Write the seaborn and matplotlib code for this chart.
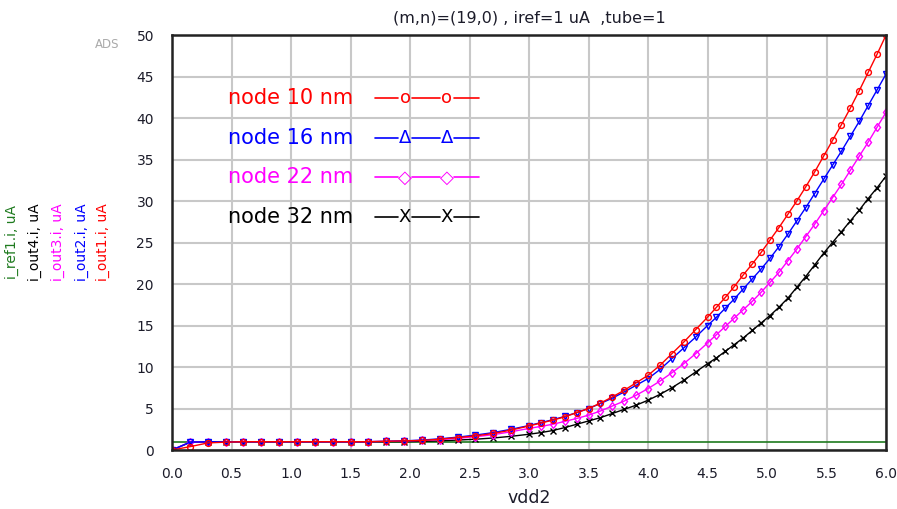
import matplotlib
matplotlib.use("Agg")
import matplotlib.pyplot as plt
import seaborn as sns
import pandas as pd
import numpy as np

# ---- data (sweep points of vdd2) ----
vdd2 = [0.0, 0.15, 0.3, 0.45, 0.6, 0.75, 0.9, 1.05, 1.2, 1.35, 1.5, 1.65, 1.8, 1.95,
        2.1, 2.25, 2.4, 2.55, 2.7, 2.85, 3.0,
        3.1, 3.2, 3.3, 3.4, 3.5, 3.6, 3.7, 3.8, 3.9, 4.0, 4.1, 4.2, 4.3, 4.4, 4.5,
        4.575, 4.65, 4.725, 4.8, 4.875, 4.95, 5.025, 5.1, 5.175, 5.25,
        5.325, 5.4, 5.475, 5.55, 5.625, 5.7, 5.775, 5.85, 5.925, 6.0]
# node 10 nm
i_out1 = [0.0, 0.4, 0.85, 0.95, 1.0, 1.0, 1.0, 1.0, 1.0, 1.0, 1.0, 1.0, 1.05, 1.1,
          1.15, 1.3, 1.5, 1.7, 2.0, 2.4, 2.9,
          3.25, 3.6, 4.0, 4.5, 5.0, 5.65, 6.4, 7.2, 8.1, 9.0, 10.2, 11.6, 13.0, 14.5, 16.0,
          17.2, 18.4, 19.7, 21.1, 22.4, 23.8, 25.3, 26.8, 28.4, 30.0,
          31.7, 33.5, 35.4, 37.3, 39.2, 41.2, 43.3, 45.5, 47.7, 50.0]
# node 16 nm
i_out2 = [0.0, 0.95, 1.0, 1.0, 1.0, 1.0, 1.0, 1.0, 1.0, 1.0, 1.0, 1.0, 1.05, 1.1,
          1.2, 1.35, 1.55, 1.8, 2.1, 2.5, 2.95,
          3.3, 3.65, 4.05, 4.5, 5.0, 5.6, 6.25, 7.0, 7.8, 8.6, 9.7, 11.0, 12.3, 13.6, 15.0,
          16.0, 17.1, 18.2, 19.4, 20.6, 21.8, 23.1, 24.5, 26.0, 27.6,
          29.2, 30.9, 32.6, 34.3, 36.0, 37.8, 39.6, 41.5, 43.4, 45.3]
# node 22 nm
i_out3 = [0.0, 0.95, 1.0, 1.0, 1.0, 1.0, 1.0, 1.0, 1.0, 1.0, 1.0, 1.0, 1.05, 1.1,
          1.15, 1.25, 1.4, 1.6, 1.85, 2.2, 2.6,
          2.85, 3.1, 3.45, 3.8, 4.2, 4.7, 5.3, 5.9, 6.6, 7.4, 8.3, 9.3, 10.4, 11.6, 12.9,
          13.9, 14.9, 15.9, 16.9, 17.9, 19.0, 20.2, 21.4, 22.8, 24.2,
          25.7, 27.2, 28.8, 30.4, 32.0, 33.7, 35.4, 37.1, 38.9, 40.7]
# node 32 nm
i_out4 = [0.0, 0.9, 1.0, 1.0, 1.0, 1.0, 1.0, 1.0, 1.0, 1.0, 1.0, 1.0, 1.0, 1.0,
          1.05, 1.1, 1.2, 1.3, 1.45, 1.65, 1.9,
          2.1, 2.35, 2.7, 3.1, 3.5, 3.9, 4.4, 4.9, 5.4, 6.0, 6.7, 7.5, 8.4, 9.4, 10.4,
          11.1, 11.9, 12.7, 13.5, 14.4, 15.3, 16.2, 17.2, 18.3, 19.6,
          20.9, 22.3, 23.7, 25.0, 26.3, 27.6, 28.9, 30.3, 31.6, 33.0]
i_ref1 = [1.0] * len(vdd2)

legend_labels = ["node 10 nm", "node 16 nm", "node 22 nm", "node 32 nm"]
legend_glyphs = ["o", "Δ", "◇", "X"]
ylabels = ["i_ref1.i, uA", "i_out4.i, uA", "i_out3.i, uA", "i_out2.i, uA", "i_out1.i, uA"]
xticks = [0.0, 0.5, 1.0, 1.5, 2.0, 2.5, 3.0, 3.5, 4.0, 4.5, 5.0, 5.5, 6.0]
yticks = [0, 5, 10, 15, 20, 25, 30, 35, 40, 45, 50]
title = "(m,n)=(19,0) , iref=1 uA  ,tube=1"

RED, BLUE, MAG, BLK, GRN = "#ff0000", "#0000ff", "#ff00ff", "#000000", "#1e7a1e"
TXT = "#1c1c2a"

sns.set_style("white")
plt.rcParams["font.family"] = ["DejaVu Sans"]

fig = plt.figure(figsize=(8.97, 5.09), dpi=100)
ax = fig.add_axes([0.1918, 0.1159, 0.7960, 0.8153])

df = pd.DataFrame({"vdd2": vdd2, "i_ref1": i_ref1, "i_out4": i_out4,
                   "i_out3": i_out3, "i_out2": i_out2, "i_out1": i_out1})

sns.lineplot(data=df, x="vdd2", y="i_ref1", color=GRN, lw=1.2, ax=ax)
series = [("i_out4", BLK, "x", 4.5), ("i_out3", MAG, "d", 4.5),
          ("i_out2", BLUE, "v", 5.0), ("i_out1", RED, "o", 4.2)]
for col, c, m, ms in series:
    sns.lineplot(data=df, x="vdd2", y=col, color=c, lw=1.0, marker=m,
                 markersize=ms, markerfacecolor="none", markeredgecolor=c,
                 markeredgewidth=1.0, ax=ax)

ax.set_xlim(0, 6)
ax.set_ylim(0, 50)
ax.set_xticks(xticks)
ax.set_xticklabels([f"{v:.1f}" for v in xticks])
ax.set_yticks(yticks)
ax.set_yticklabels([str(v) for v in yticks])
ax.grid(True, color="#c8c8c8", lw=1.5)
ax.set_axisbelow(True)
for s in ax.spines.values():
    s.set_color("#222222")
    s.set_linewidth(1.8)
ax.tick_params(axis="x", direction="out", length=9, width=1.8, color="#222222",
               pad=3, labelsize=10, labelcolor=TXT)
ax.tick_params(axis="y", direction="out", length=12, width=1.8, color="#222222",
               pad=1, labelsize=10, labelcolor=TXT)
ax.set_xlabel("vdd2", fontsize=12.5, color=TXT, labelpad=6)
ax.set_ylabel("")
ax.set_title(title, fontsize=11.5, color=TXT, pad=9)

# custom legend inside plot
rows_y = [0.8475, 0.7510, 0.6570, 0.5622]
cols = [RED, BLUE, MAG, BLK]
x0, m1, m2, x1, gap = 0.2843, 0.3263, 0.3847, 0.4304, 0.0095
for lab, g, c, yy in zip(legend_labels, legend_glyphs, cols, rows_y):
    ax.text(0.0788, yy, lab, transform=ax.transAxes, color=c, fontsize=15,
            ha="left", va="center")
    ax.plot([x0, m1 - gap, np.nan, m1 + gap, m2 - gap, np.nan, m2 + gap, x1],
            [yy] * 8, transform=ax.transAxes, color=c, lw=1.2)
    for mx in (m1, m2):
        ax.text(mx, yy, g, transform=ax.transAxes, color=c,
                fontsize=13, ha="center", va="center")

# stacked y labels
for txt, c, xp in zip(ylabels, [GRN, BLK, MAG, BLUE, RED],
                      [11.7, 35, 58.3, 81.7, 103.3]):
    fig.text(xp / 897, 0.5246, txt, rotation=90, color=c, fontsize=10,
             ha="center", va="center")

fig.text(107 / 897, 1 - 45 / 509, "ADS", color="#aaaaaa", fontsize=8.5,
         ha="center", va="center")

fig.savefig("out.png", dpi=100)
